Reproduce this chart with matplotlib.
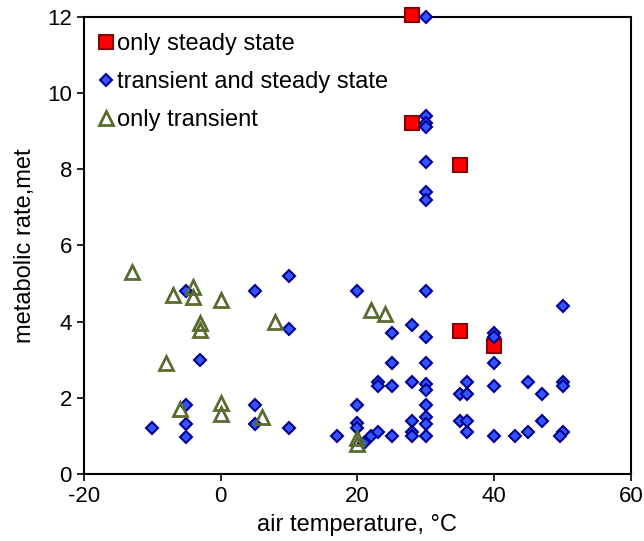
import matplotlib.pyplot as plt

plt.rcParams['font.family'] = ['Liberation Sans', 'DejaVu Sans']
plt.rcParams['axes.unicode_minus'] = False

# only steady state
steady_x = [28, 28, 35, 35, 40]
steady_y = [12.05, 9.2, 8.1, 3.75, 3.35]

# transient and steady state
both_x = [30, 30, 30, 30, 30, 30, 30,
          -5, 5, -3, -5, -5, -5, -10, 5, 5,
          10, 10, 10,
          20, 30, 28, 25, 30, 25, 30, 23, 23, 25, 28, 30, 30,
          20, 30, 30, 28, 30, 20, 20, 28, 28, 30, 17, 21, 22, 23, 25,
          35, 36, 36, 35, 36, 36,
          50, 40, 40, 40, 40, 45, 47, 50, 50, 47, 45, 43, 40, 50, 49.6]
both_y = [12.0, 9.4, 9.2, 9.1, 8.2, 7.4, 7.2,
          4.8, 4.8, 3.0, 1.8, 1.3, 0.98, 1.2, 1.8, 1.3,
          5.2, 3.8, 1.2,
          4.8, 4.8, 3.9, 3.7, 3.6, 2.9, 2.9, 2.4, 2.3, 2.3, 2.4, 2.35, 2.2,
          1.8, 1.8, 1.5, 1.4, 1.3, 1.33, 1.2, 1.1, 1.0, 1.0, 1.0, 0.8, 1.0, 1.1, 1.0,
          1.4, 1.4, 1.1, 2.1, 2.1, 2.4,
          4.4, 3.7, 3.6, 2.9, 2.3, 2.4, 2.1, 2.4, 2.3, 1.4, 1.1, 1.0, 1.0, 1.1, 1.0]

# only transient
trans_x = [-13, -7, -4, -4, 0, -3, -3, 8, -8, 0, 0, -6, 6, 22, 24, 20, 20]
trans_y = [5.3, 4.7, 4.9, 4.65, 4.57, 3.95, 3.78, 4.0, 2.9, 1.87, 1.57, 1.7, 1.5,
           4.3, 4.2, 0.95, 0.78]

fig = plt.figure(figsize=(6.44, 5.41), dpi=100)
ax = fig.add_axes([0.130, 0.124, 0.850, 0.845])

ax.plot(steady_x, steady_y, 's', ms=9.5, mfc='#ff0000', mec='#8b0000', mew=1.5,
        label='only steady state', zorder=3, clip_on=False)
ax.plot(both_x, both_y, 'D', ms=6, mfc='#3355ff', mec='#000090', mew=1.5,
        label='transient and steady state', zorder=4, clip_on=False)
ax.plot(trans_x, trans_y, '^', ms=10.5, mfc='none', mec='#5b6b30', mew=2,
        label='only transient', zorder=5)

ax.set_xlim(-20, 60)
ax.set_ylim(0, 12)
ax.set_xticks([-20, 0, 20, 40, 60])
ax.set_yticks([0, 2, 4, 6, 8, 10, 12])
ax.tick_params(direction='out', length=5, width=1.2, labelsize=16, top=False, right=False)
for s in ax.spines.values():
    s.set_linewidth(1.5)

ax.set_xlabel('air temperature, °C', fontsize=17, labelpad=5)
ax.set_ylabel('metabolic rate,met', fontsize=17, labelpad=8)

ax.legend(loc='upper left', frameon=False, fontsize=17, handlelength=0.5,
          handletextpad=0.2, borderaxespad=0.3, labelspacing=0.68,
          bbox_to_anchor=(0.0, 1.0))

fig.savefig('out.png', dpi=100)
